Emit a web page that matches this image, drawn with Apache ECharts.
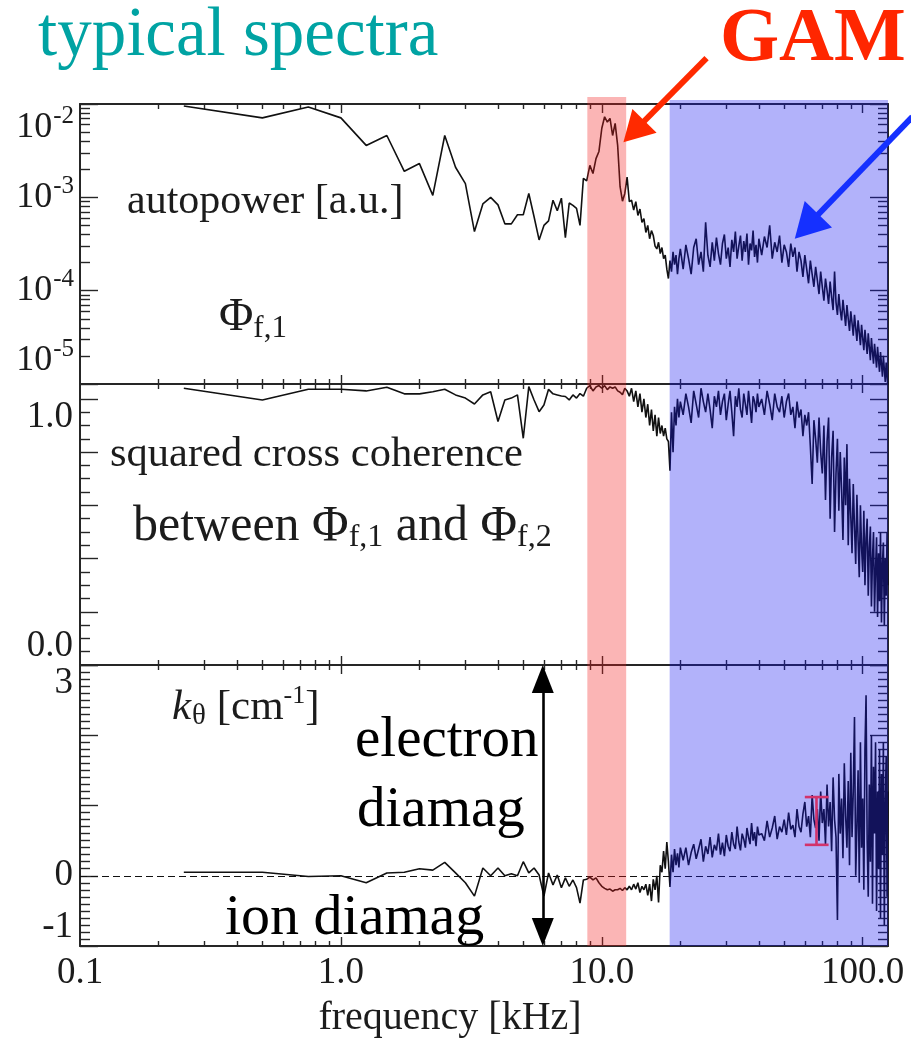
<!DOCTYPE html>
<html>
<head>
<meta charset="utf-8">
<script src="https://cdn.jsdelivr.net/npm/echarts@6/dist/echarts.min.js"></script>
<style>html,body{margin:0;padding:0;background:#fff}#c{width:911px;height:1038px}</style>
</head>
<body>
<div id="c"></div>
<script>
// ---------------- DATA ----------------
const freqKHz = [
0.25,0.5,0.75,1,1.25,1.5,1.75,2,2.25,2.5,2.75,3,3.25,3.5,3.75,4,4.25,4.5,4.75,5,
5.25,5.5,5.75,6,6.25,6.5,6.75,7,7.25,7.5,7.75,8,8.25,8.5,8.75,9,9.25,9.5,9.75,10,
10.25,10.5,10.75,11,11.25,11.5,11.75,12,12.25,12.5,12.75,13,13.25,13.5,13.75,14,14.25,14.5,14.75,15,
15.25,15.5,15.75,16,16.25,16.5,16.75,17,17.25,17.5,17.75,18,18.25,18.5,18.75,19,19.25,19.5,19.75,20,
20.5,21,21.5,22,22.5,23,23.5,24,24.5,25,25.5,26,26.5,27,27.5,28,28.5,29,29.5,30,
30.5,31,31.5,32,32.5,33,33.5,34,34.5,35,35.5,36,36.5,37,37.5,38,38.5,39,39.5,40,
41,42,43,44,45,46,47,48,49,50,51,52,53,54,55,56,57,58,59,60,
61,62,63,64,65,66,67,68,69,70,71,72,73,74,75,76,77,78,79,80,
81,82,83,84,85,86,87,88,89,90,91,92,93,94,95,96,97,98,99,100,
101,102,103,104,105,106,107,108,109,110,111,112,113,114,115,116,117,118,119,120,
121,122,123,124,125];

const autopower = [
9.5e-3,7.1e-3,9.3e-3,7.1e-3,3.6e-3,4.6e-3,1.9e-3,2.3e-3,1.05e-3,4.6e-3,
2.1e-3,1.4e-3,4.3e-4,8.5e-4,1.0e-3,8.3e-4,5.2e-4,5.2e-4,6.5e-4,6.5e-4,
1.1e-3,6.2e-4,3.5e-4,5.0e-4,5.6e-4,9.3e-4,7.2e-4,9.8e-4,3.7e-4,8.7e-4,
8.2e-4,7.6e-4,5.0e-4,1.6e-3,1.5e-3,2.2e-3,1.8e-3,2.6e-3,3.1e-3,5.5e-3,
7.3e-3,6.4e-3,7.0e-3,4.6e-3,6.2e-3,3.6e-3,1.3e-3,9.1e-4,1.1e-3,1.65e-3,
9.0e-4,9.3e-4,7.3e-4,9.0e-4,6.4e-4,7.5e-4,5.4e-4,5.9e-4,4.2e-4,5.0e-4,
3.6e-4,4.4e-4,3.9e-4,3.0e-4,2.8e-4,3.3e-4,2.5e-4,2.9e-4,2.2e-4,2.4e-4,
1.7e-4,1.35e-4,2.1e-4,1.6e-4,2.6e-4,1.9e-4,2.4e-4,1.5e-4,2.2e-4,2.8e-4,
1.7e-4,3.1e-4,2.2e-4,1.5e-4,2.9e-4,3.6e-4,1.9e-4,2.6e-4,1.6e-4,5.4e-4,
2.4e-4,1.8e-4,3.3e-4,2.1e-4,3.7e-4,2.5e-4,1.9e-4,3.2e-4,4.0e-4,2.2e-4,
2.9e-4,1.8e-4,3.5e-4,2.6e-4,4.3e-4,2.2e-4,3.0e-4,3.9e-4,2.1e-4,3.4e-4,
2.6e-4,4.1e-4,1.9e-4,3.2e-4,2.7e-4,4.4e-4,2.3e-4,3.1e-4,2.0e-4,3.6e-4,
2.4e-4,3.8e-4,2.9e-4,5.0e-4,2.2e-4,3.3e-4,2.6e-4,3.9e-4,2.0e-4,3.1e-4,
2.6e-4,1.8e-4,3.2e-4,2.3e-4,2.9e-4,1.6e-4,2.6e-4,2.1e-4,1.4e-4,2.4e-4,
1.7e-4,1.2e-4,2.1e-4,1.5e-4,1.1e-4,1.8e-4,1.3e-4,9.2e-5,1.6e-4,1.1e-4,
7.8e-5,1.35e-4,1.0e-4,7.2e-5,1.25e-4,8.5e-5,6.2e-5,1.6e-4,7.5e-5,5.5e-5,
9.2e-5,6.2e-5,4.8e-5,8.0e-5,5.8e-5,4.2e-5,7.0e-5,5.0e-5,3.7e-5,6.0e-5,
4.5e-5,3.3e-5,5.5e-5,4.0e-5,2.9e-5,4.8e-5,3.6e-5,2.6e-5,4.3e-5,3.1e-5,
2.3e-5,3.8e-5,2.8e-5,2.1e-5,3.5e-5,2.5e-5,1.8e-5,3.1e-5,2.2e-5,1.65e-5,
2.7e-5,2.0e-5,1.5e-5,2.5e-5,1.8e-5,1.35e-5,2.2e-5,1.65e-5,1.2e-5,2.0e-5,
1.45e-5,1.05e-5,1.7e-5,1.2e-5,0.9e-5];

const coherence = [
1.04,0.996,1.036,1.036,1.03,1.044,1.019,1.019,1.027,1.036,
1.015,1.003,0.981,1.015,1.027,0.915,0.996,1.003,1.015,0.852,
1.046,0.996,0.952,0.977,1.036,1.019,1.015,1.011,1.009,0.996,
1.015,1.003,1.02,1.01,1.04,1.05,1.03,1.045,1.05,1.04,
1.05,1.035,1.045,1.04,1.045,1.03,1.025,1.016,1.04,1.03,
1.01,1.04,0.99,1.03,0.97,1.02,0.95,1.0,0.93,0.98,
0.90,0.96,0.88,0.94,0.86,0.93,0.87,0.90,0.86,0.89,
0.85,0.84,0.73,0.95,0.80,0.97,0.90,1.0,0.93,0.99,
0.94,1.02,0.97,0.91,1.03,0.98,0.93,1.04,0.99,0.95,
1.02,0.96,0.89,1.01,0.97,1.03,0.94,0.99,1.02,0.92,
0.98,1.03,0.95,0.86,1.01,0.97,1.04,0.96,0.93,1.02,
0.98,0.94,1.03,0.97,0.91,1.01,0.99,0.95,1.02,0.97,
1.0,0.94,1.03,0.98,0.92,1.02,0.97,0.95,1.01,0.93,
0.99,1.02,0.94,0.97,0.89,0.99,0.93,0.96,0.86,0.94,
0.90,0.95,0.82,0.68,0.92,0.85,0.76,0.93,0.80,0.72,
0.90,0.62,0.84,0.93,0.55,0.78,0.88,0.50,0.72,0.85,
0.58,0.80,0.66,0.47,0.78,0.60,0.83,0.45,0.70,0.56,
0.42,0.68,0.52,0.38,0.64,0.47,0.33,0.60,0.44,0.35,
0.58,0.30,0.48,0.55,0.26,0.44,0.52,0.22,0.40,0.50,
0.20,0.36,0.48,0.18,0.42,0.24,0.50,0.16,0.38,0.46,
0.15,0.40,0.26,0.50,0.30];

const kTheta = [
0.05,0.05,-0.01,0.0,-0.1,0.04,0.05,0.1,0.08,0.19,
0.04,-0.1,-0.29,0.11,0.0,0.11,0.0,0.03,0.0,0.2,
0.04,0.11,0.01,-0.29,0.04,-0.13,0.01,-0.17,-0.03,-0.15,
-0.06,-0.17,-0.39,-0.06,-0.05,-0.02,-0.06,-0.03,-0.1,-0.15,
-0.18,-0.2,-0.19,-0.22,-0.2,-0.2,-0.18,-0.21,-0.17,-0.2,
-0.15,-0.2,-0.12,-0.19,-0.1,-0.24,-0.15,-0.2,-0.12,-0.28,
-0.12,-0.36,-0.05,-0.2,0.0,-0.38,0.15,0.05,0.35,0.1,
0.48,0.2,-0.16,0.3,0.05,0.38,0.15,0.32,0.12,0.4,
0.22,0.40,0.15,0.33,0.45,0.24,0.38,0.52,0.2,0.42,
0.31,0.55,0.26,0.44,0.36,0.6,0.3,0.47,0.28,0.58,
0.42,0.35,0.62,0.45,0.38,0.7,0.48,0.36,0.6,0.52,
0.4,0.68,0.55,0.45,0.75,0.5,0.62,0.42,0.7,0.58,
0.6,0.5,0.78,0.55,0.68,0.85,0.52,0.7,0.62,0.8,
0.58,0.9,0.66,0.72,0.55,0.95,0.7,0.62,0.88,1.05,
0.7,0.85,0.55,1.15,0.8,0.68,0.95,0.5,1.2,0.75,
0.95,0.45,1.3,0.7,1.05,0.35,1.4,0.8,0.55,-0.63,
1.45,0.6,1.1,0.25,1.6,0.85,0.4,1.35,0.15,1.75,
0.55,1.2,2.26,0.0,0.7,1.5,-0.1,1.9,0.4,1.1,
-0.2,1.8,2.57,0.5,-0.3,1.3,0.2,2.0,-0.4,1.55,
0.6,1.9,-0.5,1.2,0.1,1.8,-0.6,1.45,0.3,1.9,
-0.7,1.0,1.7,-0.3,1.2];

// shaded frequency bands [fromKHz, toKHz, kind]
const bands = [[8.8, 12.4, 0], [18.2, 125, 1]];
// error bar in k_theta panel: [f, low, high, capFrom, capTo]
const kErrorBar = [[66.5, 0.44, 1.12, 60, 74]];
// vertical double arrow in k_theta panel: frequency, from, to
const kArrow = {f: 5.94, from: -0.8, to: 2.8};

// tick values / labels
const xLabelVals = [0.1, 1, 10, 100];
const xLabelText = ['0.1', '1.0', '10.0', '100.0'];
const xMajor = [1, 10, 100];
const y1Major = [1e-5, 1e-4, 1e-3, 1e-2];
const y1LabelExp = ['-5', '-4', '-3', '-2'];
const y2Major = [0, 0.2, 0.4, 0.6, 0.8, 1.0];
const y2LabelVals = [0, 1];
const y2LabelText = ['0.0', '1.0'];
const y3Major = [-1, 0, 1, 2, 3];
const y3LabelVals = [-1, 0, 3];
const y3LabelText = ['-1', '0', '3'];

// ---------------- helpers ----------------
function logMinors(decades){ const o=[]; decades.forEach(d=>{ for(let m=2;m<=9;m++) o.push(+(m*d).toPrecision(6)); }); return o; }
function linMinors(a,b,step,skip){ const o=[]; const n=Math.round((b-a)/step); for(let i=0;i<=n;i++){ const v=+(a+i*step).toFixed(6); if(!skip.some(s=>Math.abs(s-v)<1e-9)) o.push(v);} return o; }
const xMinor = logMinors([0.1, 1, 10]);
const y1Minor = logMinors([1e-5, 1e-4, 1e-3]);
const y2Minor = linMinors(0.05, 1.0, 0.05, y2Major);
const y3Minor = linMinors(-0.9, 2.9, 0.1, y3Major);

const SERIF = "'Liberation Serif','DejaVu Serif',serif";
const TXT = '#1c1c1c';
const FRAME = '#262626';
const LINE = '#111111';

const grids = [
  {left: 80, right: 23, top: 104, height: 280},
  {left: 80, right: 23, top: 384, height: 281},
  {left: 80, right: 23, top: 665, height: 281}
];

function xAx(g, pos, ticks, len, showLine, label, extra) {
  return Object.assign({
    type: 'log', logBase: 10, gridIndex: g, position: pos, min: 0.1, max: 125,
    axisLine: {show: showLine, onZero: false, lineStyle: {color: FRAME, width: 2}},
    axisTick: {show: true, inside: true, length: len, customValues: ticks, lineStyle: {color: FRAME, width: 1.4}},
    axisLabel: label || {show: false},
    splitLine: {show: false}, minorTick: {show: false}, minorSplitLine: {show: false}
  }, extra || {});
}
function yAx(g, pos, cfg, ticks, len, showLine, label) {
  return Object.assign({
    gridIndex: g, position: pos,
    axisLine: {show: showLine, onZero: false, lineStyle: {color: FRAME, width: 2}},
    axisTick: {show: true, inside: true, length: len, customValues: ticks, lineStyle: {color: FRAME, width: 1.4}},
    axisLabel: label || {show: false},
    splitLine: {show: false}, minorTick: {show: false}, minorSplitLine: {show: false}
  }, cfg);
}

const xAxes = [];
const yAxes = [];
const yCfg = [
  {type: 'log', logBase: 10, min: 1e-5, max: 1e-2},
  {type: 'value', min: 0, max: 1.056},
  {type: 'value', min: -1, max: 3}
];
const yMaj = [y1Major, y2Major, y3Major];
const yMin = [y1Minor, y2Minor, y3Minor];
const yLab = [
  {show: true, customValues: y1Major, margin: 6,
   formatter: v => '{b|10}{s|' + y1LabelExp[y1Major.findIndex(t => Math.abs(Math.log10(t) - Math.log10(v)) < 1e-6)] + '}',
   rich: {b: {fontSize: 36, fontFamily: SERIF, color: TXT}, s: {fontSize: 25, fontFamily: SERIF, color: TXT, padding: [0, 0, 22, 1]}},
   verticalAlignMinLabel: 'bottom', verticalAlignMaxLabel: 'top'},
  {show: true, customValues: y2LabelVals, margin: 7, fontSize: 37, fontFamily: SERIF, color: TXT,
   formatter: v => y2LabelText[y2LabelVals.findIndex(t => Math.abs(t - v) < 1e-6)],
   verticalAlignMinLabel: 'bottom', verticalAlignMaxLabel: 'top'},
  {show: true, customValues: y3LabelVals, margin: 7, fontSize: 37, fontFamily: SERIF, color: TXT,
   formatter: v => y3LabelText[y3LabelVals.findIndex(t => Math.abs(t - v) < 1e-6)],
   verticalAlignMinLabel: 'bottom', verticalAlignMaxLabel: 'top'}
];

for (let g = 0; g < 3; g++) {
  const isLast = g === 2;
  xAxes.push(xAx(g, 'bottom', xMajor, 9, true, isLast ? {
    show: true, customValues: xLabelVals, margin: 9, fontSize: 37, fontFamily: SERIF, color: TXT,
    formatter: v => xLabelText[xLabelVals.findIndex(t => Math.abs(Math.log10(t) - Math.log10(v)) < 1e-6)]
  } : null, isLast ? {name: 'frequency [kHz]', nameLocation: 'middle', nameGap: 52,
    nameTextStyle: {fontSize: 40, fontFamily: SERIF, color: TXT, padding: [0, 68, 0, 0]}} : {}));
  xAxes.push(xAx(g, 'bottom', xMinor, 5, false, null));
  xAxes.push(xAx(g, 'top', xMajor, 9, true, null));
  xAxes.push(xAx(g, 'top', xMinor, 5, false, null));
  yAxes.push(yAx(g, 'left', yCfg[g], yMaj[g], 18, true, yLab[g]));
  yAxes.push(yAx(g, 'left', yCfg[g], yMin[g], 10, false, null));
  yAxes.push(yAx(g, 'right', yCfg[g], yMaj[g], 18, true, null));
  yAxes.push(yAx(g, 'right', yCfg[g], yMin[g], 10, false, null));
}

const bandColors = ['rgba(242,30,30,0.33)', 'rgba(20,20,240,0.33)'];
const bandYRef = [1e-3, 0.5, 0];
function bandSeries(g) {
  return {
    type: 'custom', xAxisIndex: 4 * g, yAxisIndex: 4 * g, z: 10, silent: true, clip: false,
    data: bands,
    encode: {x: [0, 1]},
    renderItem: function (params, api) {
      const cs = params.coordSys;
      const xa = api.coord([api.value(0), bandYRef[g]])[0];
      const xb = api.coord([api.value(1), bandYRef[g]])[0];
      const ext = g === 0 ? (api.value(2) === 0 ? 7 : 4) : 0;
      return {type: 'rect', shape: {x: xa, y: cs.y - ext, width: xb - xa, height: cs.height + ext},
              style: {fill: bandColors[api.value(2)]}};
    }
  };
}

const lineStyleBase = {color: LINE, width: 1.6};
const option = {
  animation: false,
  backgroundColor: '#ffffff',
  grid: grids.map(g => Object.assign({outerBoundsMode: 'none', containLabel: false}, g)),
  xAxis: xAxes,
  yAxis: yAxes,
  series: [
    {type: 'line', xAxisIndex: 0, yAxisIndex: 0, z: 3, symbol: 'none', showSymbol: false,
     data: freqKHz.map((f, i) => [f, autopower[i]]), lineStyle: lineStyleBase},
    {type: 'line', xAxisIndex: 4, yAxisIndex: 4, z: 3, symbol: 'none', showSymbol: false,
     data: freqKHz.map((f, i) => [f, coherence[i]]), lineStyle: lineStyleBase},
    {type: 'line', xAxisIndex: 8, yAxisIndex: 8, z: 3, symbol: 'none', showSymbol: false,
     data: freqKHz.map((f, i) => [f, kTheta[i]]), lineStyle: lineStyleBase,
     markLine: {silent: true, animation: false, symbol: ['none', 'none'], label: {show: false},
       lineStyle: {color: '#111', width: 1.1, type: [7, 4]},
       data: [
         {yAxis: 0},
         [{coord: [kArrow.f, kArrow.from], symbol: 'triangle', symbolSize: [22, 28],
           lineStyle: {type: 'solid', width: 2.6, color: '#000'}, itemStyle: {color: '#000'}},
          {coord: [kArrow.f, kArrow.to], symbol: 'triangle', symbolSize: [22, 28], itemStyle: {color: '#000'}}]
       ]}},
    bandSeries(0), bandSeries(1), bandSeries(2),
    {type: 'custom', xAxisIndex: 8, yAxisIndex: 8, z: 12, silent: true, data: kErrorBar,
     encode: {x: [0, 3, 4], y: [1, 2]},
     renderItem: function (params, api) {
       const f = api.value(0), lo = api.value(1), hi = api.value(2), c0 = api.value(3), c1 = api.value(4);
       const pLo = api.coord([f, lo]), pHi = api.coord([f, hi]);
       const aLo = api.coord([c0, lo]), bLo = api.coord([c1, lo]);
       const aHi = api.coord([c0, hi]), bHi = api.coord([c1, hi]);
       const st = {stroke: '#d2336b', lineWidth: 2.6};
       return {type: 'group', children: [
         {type: 'line', shape: {x1: pLo[0], y1: pLo[1], x2: pHi[0], y2: pHi[1]}, style: st},
         {type: 'line', shape: {x1: aLo[0], y1: aLo[1], x2: bLo[0], y2: bLo[1]}, style: st},
         {type: 'line', shape: {x1: aHi[0], y1: aHi[1], x2: bHi[0], y2: bHi[1]}, style: st}
       ]};
     }}
  ]
};

const chart = echarts.init(document.getElementById('c'), null, {renderer: 'canvas'});
chart.setOption(option);

// ------------- annotations -------------
function txt(id, x, y, text, size, color, extra) {
  return {type: 'text', id: id, z: 100, x: x, y: y, silent: true,
    style: Object.assign({text: text, fontSize: size, fontFamily: SERIF, fill: color,
      align: 'left', verticalAlign: 'middle', textAlign: 'left', textVerticalAlign: 'middle'}, extra || {})};
}
function arrow(id, p0, p1, color, width, headL, headW) {
  const dx = p1[0] - p0[0], dy = p1[1] - p0[1], L = Math.hypot(dx, dy), ux = dx / L, uy = dy / L;
  const bx = p1[0] - ux * headL, by = p1[1] - uy * headL;
  return [
    {type: 'line', id: id + 'l', z: 100, silent: true,
     shape: {x1: p0[0], y1: p0[1], x2: bx + ux * 2, y2: by + uy * 2}, style: {stroke: color, lineWidth: width}},
    {type: 'polygon', id: id + 'h', z: 100, silent: true,
     shape: {points: [[p1[0], p1[1]], [bx - uy * headW / 2, by + ux * headW / 2], [bx + uy * headW / 2, by - ux * headW / 2]]},
     style: {fill: color}}
  ];
}
const px = (f, v) => chart.convertToPixel({xAxisIndex: 0, yAxisIndex: 0}, [f, v]);
const gamTail = px(25.2, 3.1e-2), gamTip = px(12.1, 3.9e-3);
const turbTail = px(155, 7.3e-3), turbTip = px(54.9, 3.6e-4);

const subRich = (big, small, down) => ({
  m: {fontSize: big, fontFamily: SERIF, color: TXT},
  s: {fontSize: small, fontFamily: SERIF, color: TXT, padding: [down, 0, 0, 0]}
});

const elements = [
  txt('t1', 38, 37, 'typical spectra', 69, '#00a3a3'),
  txt('t2', 720, 40, 'GAM', 76, '#ff2600', {fontWeight: 'bold'}),
  txt('t3', 127, 202, 'autopower [a.u.]', 42, TXT),
  txt('t4', 219, 318, '{m|Φ}{s|f,1}', 0, TXT, {rich: subRich(47, 31, 22)}),
  txt('t5', 110, 455, 'squared cross coherence', 42.5, TXT),
  txt('t6', 133, 527, '{m|between Φ}{s|f,1}{m| and Φ}{s|f,2}', 0, TXT, {rich: subRich(50, 32, 22)}),
  txt('t7', 172, 708, '{k|k}{t|θ}{m| [cm}{u|-1}{m|]}', 0, TXT, {rich: {
    k: {fontSize: 43, fontFamily: SERIF, fontStyle: 'italic', color: TXT},
    t: {fontSize: 29, fontFamily: SERIF, color: TXT, padding: [16, 0, 0, 1]},
    m: {fontSize: 43, fontFamily: SERIF, color: TXT},
    u: {fontSize: 26, fontFamily: SERIF, color: TXT, padding: [0, 0, 24, 0]}
  }}),
  txt('t8', 355, 741, 'electron', 57, '#000'),
  txt('t9', 357, 811, 'diamag', 57, '#000'),
  txt('t10', 225, 919, 'ion diamag', 58, '#000')
].concat(arrow('ga', gamTail, gamTip, '#ff2a00', 6, 30, 34))
 .concat(arrow('tu', turbTail, turbTip, '#1530ff', 6, 34, 38));

chart.setOption({graphic: {elements: elements}});
</script>
</body>
</html>
